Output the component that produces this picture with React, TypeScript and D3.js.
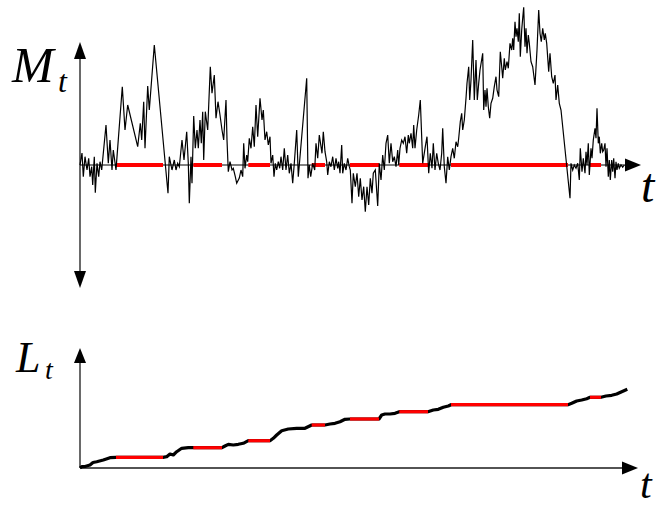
import React from "react";
import * as d3 from "d3";

// Upper panel: time (t) and process value (M_t)
const topT = [
  0, 2, 3.3, 5, 7, 8.7, 10, 11.7, 12.7, 14.3, 15.3, 17, 18.7, 20, 21.7, 26, 28.3, 30, 32, 33.3, 36,
  42.3, 45, 47.7, 57.7, 60.3, 61.7, 63.7, 65, 67.7, 69.3, 74.3, 88,
  89.3, 92, 94.3, 96, 97.7, 99.3, 102, 104, 106.7, 108.3, 109.3, 111, 112, 113.7, 115.3, 117, 118.3,
  120, 121.3, 122.7, 123.7, 125.3, 127.7, 130.3, 132, 134.3, 136, 138, 140, 142, 143.7, 146, 147,
  148.3, 150, 152, 153.3, 155.3, 156.7,
  159.3, 161, 162.7, 163.7, 165, 166.7, 167.7, 169.3, 171, 172.7, 174.3, 176, 177.7, 180, 182, 183.3,
  185, 186.7, 188.3, 190, 191, 192.7, 194, 195.3, 196.7, 198.3, 199.7, 201, 202.7, 204.3, 206, 207.7,
  209.3, 211, 212.7, 214.3, 216.7, 218.3, 226.7, 228, 229.3, 230.7, 232.7, 234.7, 236, 237.7, 239.3,
  242, 243.3, 245, 246.7, 247.7, 249.3, 251, 252.7, 254.3, 256, 257.7, 258.7, 260, 261.7, 262.7, 264.3,
  266, 267.7, 269.3, 270.3, 272, 273.3, 275.3, 277, 278.7, 280.3, 282, 283.7, 285.3, 287, 288.7, 290.3,
  292, 293.3, 295.3, 297.7, 299.3, 301, 302.7, 304.3, 306, 307.7, 309.3, 311, 312.7, 314.3, 316, 317.7,
  318.7, 320, 321.7, 323.3, 325, 326.7, 328.3, 329.3, 331, 332.7, 333.7, 335, 336.7, 338.7, 340.3,
  342.7, 345.3, 347, 348.7, 350.3, 352, 353.3, 355, 356.7, 358.3, 360, 361.7, 362.7, 364.3, 366, 367.7,
  369.3, 371, 372.7, 374.3, 376, 377.7, 378.7, 380.3, 381.7, 382.7, 384.3, 386, 387, 388.7, 389.7, 391,
  392.7, 394.3, 396, 397.3, 398.7, 400, 402.7, 403.7, 405, 406, 407, 408.3, 409.7, 411, 412.7, 414.3,
  416, 417, 418.7, 420.3, 421.7, 422.7, 424.3, 425.3, 427, 428.3, 430, 431.7, 432.7, 433.7, 435, 436,
  437, 438.3, 439.3, 440.3, 441.7, 442.7, 443.7, 445, 446, 447, 448.3, 449.3, 451, 452.7, 455, 457,
  458.7, 460, 461.3, 462.7, 464.3, 465.3, 466.7, 468.7, 470, 471.7, 473.3, 475, 476, 477.7, 479.3, 481,
  490, 491, 492.7, 494.3, 496, 497.7, 499.3, 500.3, 502, 503.3, 505, 506, 507, 508.3, 509.3, 511, 512,
  513.3, 515, 516, 517, 518.3, 519.3, 520.3, 521.7, 522.7, 523.7, 525, 526, 527, 528.3, 529.3, 530.3,
  531.7, 532.7, 533.7, 535, 536, 537, 538.3, 539.3, 541, 542.7, 544.3,
];
const topM = [
  0, 12, -11.7, 8.3, -5, 6.7, -11.7, -1.7, -20, 8.3, -27.7, 1.7, -11.7, 3.3, -5, 40, 1.7, 25, -5, 15, -5,
  78.3, 35, 60, 18.3, 41.7, 25, 63.3, 16.7, 79, 55, 120, -28.3,
  8.3, -5, 5, -5, 1.7, -1.7, 25, 5, 33.3, 1.7, -38.3, 8.3, -18.3, 49, 16.7, 35, 16.7,
  45, 21.7, 53.3, 5, 53.3, 35, 98.3, 71.7, 90, 46.7, 63.3, 50, 35, 25, 65, 25,
  -6.7, 3.3, -5, -3.3, -11.7, -18.3,
  -13, -5, -11.7, 21.7, -3.3, 10, 3.3, 26.7, 16.7, 38.3, 18.3, 60, 28.3, 66.7, 45, 55,
  25, 33.3, 20, 28.3, 1.7, 10, -11.7, 1.7, -5, 3.3, -3.3, 8.3, -5, 16.7, -5, 10,
  -8.3, 1.7, -18.3, 1.7, 35, -11.7, 86.7, -13.3, 0, -11.7, 1.7, -5, 21.7, 6.7, 30,
  11.7, 33.3, 13.3, 3.3, -10, 3.3, -1.7, 8.3, -5, 6.7, -3.3, 3.3, -8.3, 20, -8.3, 1.7,
  -5, 6.7, -1.7, -5, -38.3, -8.3, -21.7, -8.3, -31.7, -13.3, -35, -21.7, -46.7, -21.7, -40, -13.3,
  -28.3, -8.3, -5, -41, 1.7, -15, 10, -5, 21.7, 30, 1.7, 21.7, 3.3, 8.3, -1.7, 15,
  0, 16.7, 25, 21.7, 28.3, 11.7, 30, 21.7, 31.7, 16.7, 40, 16.7, 35, 50, 65,
  1.7, 18.3, 28.3, -8.3, 11.7, -3.3, 21.7, -5, 11.7, 1.7, -5, 11.7, 36.7, -1.7, -18.3, 8.3,
  -5, 8.3, 16.7, 6.7, 23.3, 18.3, 26.7, 43.3, 51.7, 35, 45, 66.7, 81.7, 98.3, 65, 85,
  125, 65, 105, 65, 81.7, 95, 111.7, 55, 75, 58.3, 76.7, 58.3, 46.7, 61.7, 66.7, 78.3,
  88.3, 75, 68.3, 113.3, 98.3, 86.7, 106.7, 95, 103.3, 96.7, 121.7, 115, 126.7, 115, 143.3, 128.3,
  136.7, 123.3, 151.7, 108.3, 135, 146.7, 157.7, 118.3, 136.7, 111.7, 130, 121.7, 103.3, 98.3, 80, 115,
  155, 131.7, 123.3, 136.7, 125, 131.7, 121.7, 93.3, 111.7, 88.3, 81.7, 90, 65, 80, 61.7, 55,
  -33.3, 1.7, -5, 0, -3.3, 1.7, -15, 16.7, -6.7, 6.7, -8.3, 13.3, 0, 21.7, -10, 16.7, 6.7,
  25, 36.7, 26.7, 56.7, 21.7, 28.3, 11.7, 21.7, 13.3, 15, 21.7, -1.7, 16.7, -11.7, 5, -15,
  5, -6.7, 6.7, -13.3, 3.3, -5, 1.7, -3.3, 0, -2.3, 0,
];

// Lower panel: local time L_t
const localT = [
  0, 1.7, 5, 10, 13, 16.7, 23.3, 30, 36, 83, 86.7, 90, 93.3, 96.7, 101.7, 108.3, 113.3, 142, 145, 148.3,
  153.3, 158.3, 163.3, 168.3, 190, 193.3, 196.7, 201.7, 208.3, 216.7, 225, 231.7, 245, 250, 255, 260,
  265, 270, 299, 301.7, 305, 310, 315, 319.3, 348, 353.3, 358.3, 363.3, 368.3, 371, 488, 491.7, 496.7,
  501.7, 506.7, 510, 521, 526, 531.7, 536.7, 541.7, 547.3,
];
const localL = [
  0, 1.3, 1.5, 3, 5.5, 6.3, 8, 10.3, 10.7, 10.7, 11.3, 14, 13, 16.3, 19.7, 20.3, 20.3, 20.3, 22, 23.7,
  23, 23.7, 24.7, 27.3, 27.3, 29.7, 33, 37.3, 39, 39.7, 39.7, 43, 43, 44, 44.7, 46.3,
  48.7, 49, 49, 53, 54, 54, 54.7, 56.3, 56.3, 58, 58.7, 60.7, 62, 63.3, 63.3, 64.7, 67,
  68, 69.3, 70.7, 70.7, 72, 72.7, 74, 76.3, 78.7,
];

// Excursion intervals (process away from zero, local time flat)
const excursionStart = [36, 113.3, 168.3, 231.7, 270, 319.3, 371, 510];
const excursionEnd = [83, 142, 190, 245, 299, 348, 488, 521];

const labelTop = "M";
const labelBottom = "L";
const labelSub = "t";
const labelTime = "t";

export default function App() {
  const W = 656;
  const H = 508;
  const x = d3.scaleLinear().domain([0, 560]).range([80, 640]);
  const yTop = d3.scaleLinear().domain([-125, 123]).range([290, 42]);
  const yBot = d3.scaleLinear().domain([0, 120]).range([468, 348]);

  const topPts: [number, number][] = topT.map((t, i) => [t, topM[i]]);
  const botPts: [number, number][] = localT.map((t, i) => [t, localL[i]]);
  const lineTop = d3.line<[number, number]>().x((d) => x(d[0])).y((d) => yTop(d[1]));
  const lineBot = d3.line<[number, number]>().x((d) => x(d[0])).y((d) => yBot(d[1]));

  const x0 = x(0);
  const z = yTop(0);
  const axisColor = "#1a1a1a";
  const red = "#ff0000";
  const font = "'Liberation Serif', 'DejaVu Serif', serif";

  return (
    <svg
      width={W}
      height={H}
      style={{ position: "absolute", left: 0, top: 0, background: "#fff" }}
    >
      {/* Upper axes */}
      <line x1={x0} x2={x0} y1={yTop(118)} y2={yTop(-118)} stroke={axisColor} strokeWidth={1.3} />
      <path d={`M${x0},${yTop(123)} L${x0 - 6},${yTop(106)} L${x0 + 6},${yTop(106)} Z`} fill="#000" />
      <path d={`M${x0},${yTop(-123)} L${x0 - 6},${yTop(-106)} L${x0 + 6},${yTop(-106)} Z`} fill="#000" />
      <line x1={x0} x2={x(548)} y1={z} y2={z} stroke="#000" strokeWidth={1} />
      {excursionStart.map((a, i) => (
        <line key={`rt${i}`} x1={x(a)} x2={x(excursionEnd[i])} y1={z} y2={z} stroke={red} strokeWidth={4} />
      ))}
      <path d={`M${x(561)},${z} L${x(545)},${z - 6.5} L${x(545)},${z + 6.5} Z`} fill="#000" />
      <path d={lineTop(topPts) || ""} fill="none" stroke="#000" strokeWidth={1.2} strokeLinejoin="miter" />

      {/* Lower axes */}
      <line x1={x0} x2={x0} y1={yBot(0)} y2={yBot(110)} stroke={axisColor} strokeWidth={1.3} />
      <path d={`M${x0},${yBot(120)} L${x0 - 6},${yBot(105)} L${x0 + 6},${yBot(105)} Z`} fill="#000" />
      <line x1={x0} x2={x(545)} y1={yBot(0)} y2={yBot(0)} stroke={axisColor} strokeWidth={1.3} />
      <path d={`M${x(558)},${yBot(0)} L${x(542)},${yBot(0) - 6.5} L${x(542)},${yBot(0) + 6.5} Z`} fill="#000" />
      <path d={lineBot(botPts) || ""} fill="none" stroke="#000" strokeWidth={3.2} strokeLinejoin="round" />
      {excursionStart.map((a, i) => {
        const b = excursionEnd[i];
        const seg = botPts.filter((p) => p[0] >= a - 0.01 && p[0] <= b + 0.01);
        return <path key={`rb${i}`} d={lineBot(seg) || ""} fill="none" stroke={red} strokeWidth={3.2} />;
      })}

      {/* Labels */}
      <text x={12} y={82} fontFamily={font} fontStyle="italic" fontSize={50} fill="#000">{labelTop}</text>
      <text x={58} y={92} fontFamily={font} fontStyle="italic" fontSize={32} fill="#000">{labelSub}</text>
      <text x={641} y={202} fontFamily={font} fontStyle="italic" fontSize={48} fill="#000">{labelTime}</text>
      <text x={16} y={372} fontFamily={font} fontStyle="italic" fontSize={44} fill="#000">{labelBottom}</text>
      <text x={45} y={379} fontFamily={font} fontStyle="italic" fontSize={28} fill="#000">{labelSub}</text>
      <text x={640} y={498} fontFamily={font} fontStyle="italic" fontSize={42} fill="#000">{labelTime}</text>
    </svg>
  );
}
